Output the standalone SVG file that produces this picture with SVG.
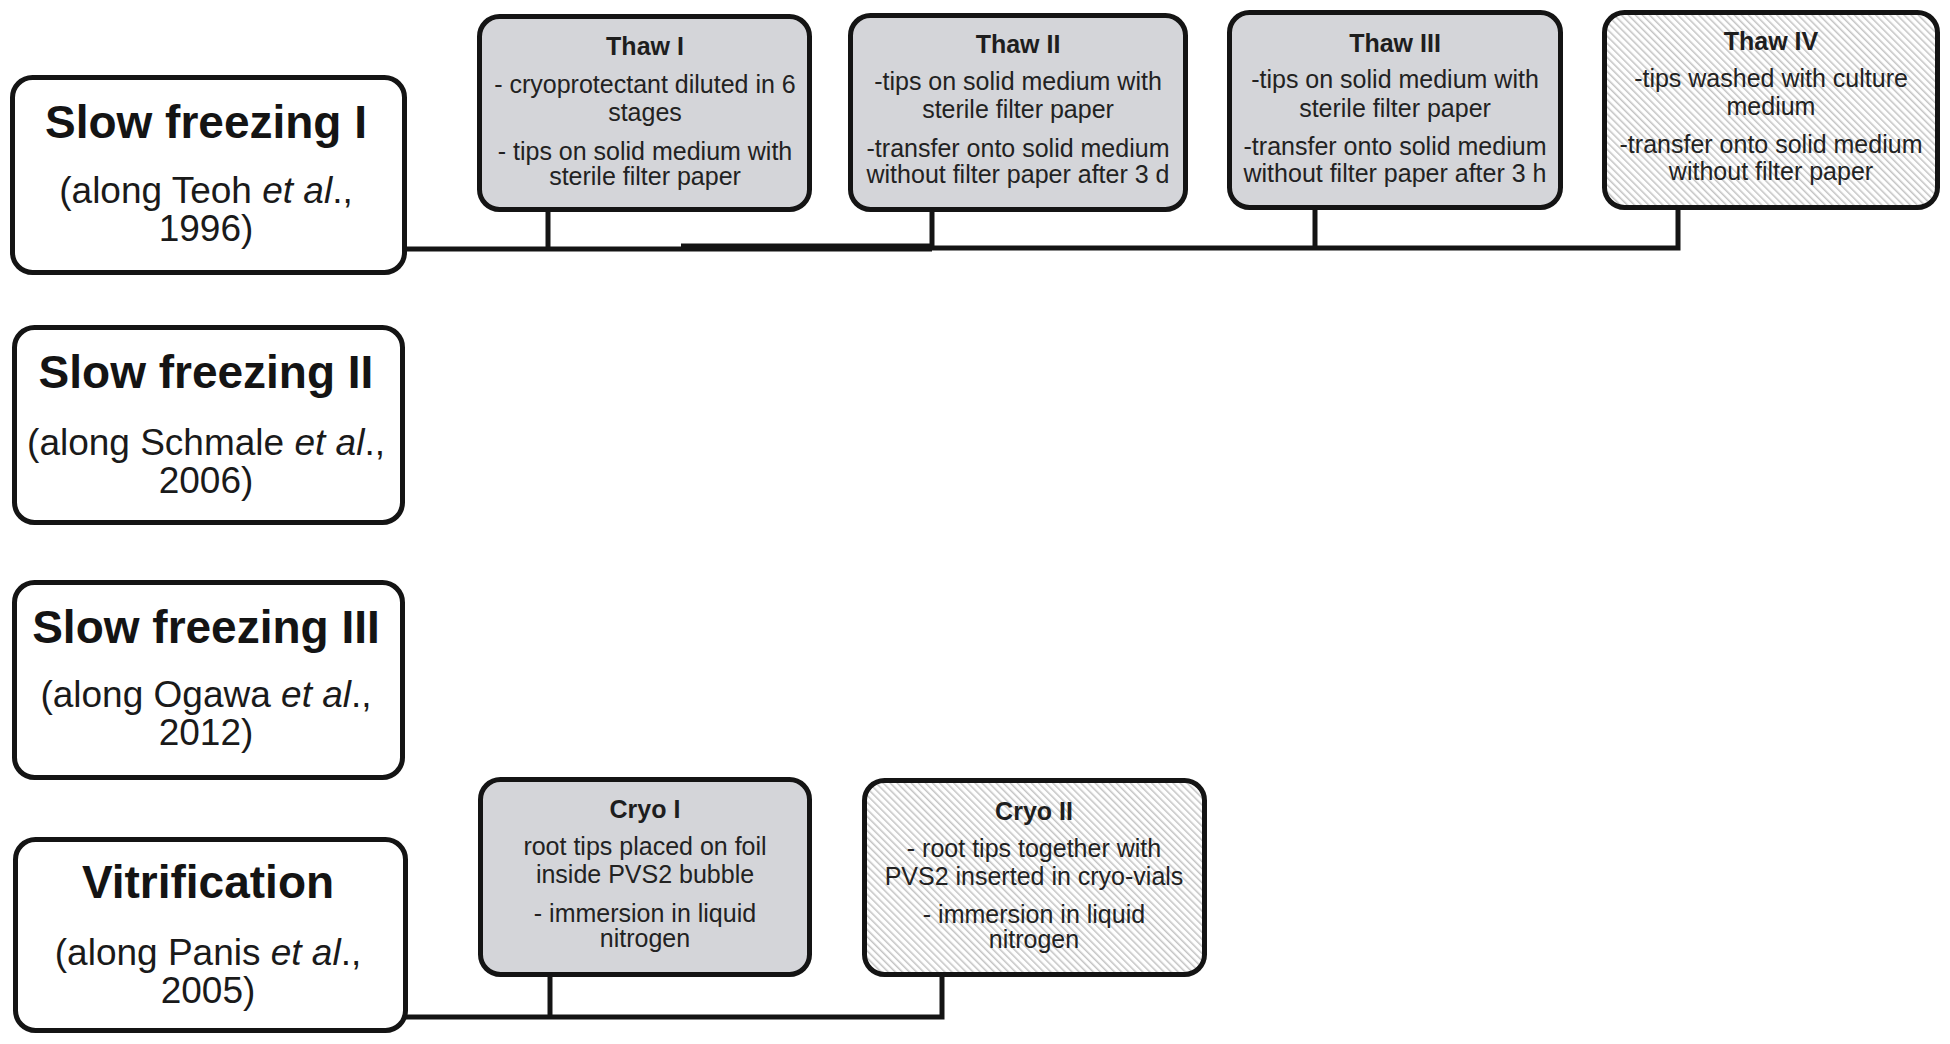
<svg xmlns="http://www.w3.org/2000/svg" width="1950" height="1044" viewBox="0 0 1950 1044">
<style>
  .box { stroke: #141414; stroke-width: 5; }
  .white { fill: #ffffff; }
  .gray { fill: #d4d5d9; }
  .hatch { fill: url(#hatch); }
  .title { font-family: "Liberation Sans", Arial, sans-serif; font-weight: bold; font-size: 46px; fill: #141414; text-anchor: middle; }
  .sub { font-family: "Liberation Sans", Arial, sans-serif; font-size: 37px; fill: #1a1a1a; text-anchor: middle; }
  .head { font-family: "Liberation Sans", Arial, sans-serif; font-weight: bold; font-size: 25px; fill: #1e1e1e; text-anchor: middle; }
  .body { font-family: "Liberation Sans", Arial, sans-serif; font-size: 25px; fill: #222222; text-anchor: middle; }
  .conn { fill: none; stroke: #141414; stroke-width: 5; stroke-linejoin: miter; }
  .it { font-style: italic; }
</style>
<defs>
  <pattern id="hatch" width="5" height="5" patternUnits="userSpaceOnUse" patternTransform="rotate(-45)">
    <rect width="5" height="5" fill="#ffffff"/>
    <line x1="0.8" y1="0" x2="0.8" y2="5" stroke="#bababa" stroke-width="1.3"/>
  </pattern>
</defs>
<rect width="1950" height="1044" fill="#ffffff"/>

<g id="connectors">
  <path class="conn" d="M404 249 H932 M932 248 H1678 V210"/>
  <path class="conn" d="M548 212 V249"/>
  <path class="conn" d="M932 212 V249"/>
  <path class="conn" d="M1315 210 V248"/>
  <path class="conn" d="M681 247 H932" style="stroke-width:7"/>
  <path class="conn" d="M406 1017 H942 V977"/>
  <path class="conn" d="M550 977 V1017"/>
</g>

<g id="slow-freezing-1">
  <rect class="box white" x="12.5" y="77.5" width="392" height="195" rx="20"/>
  <text class="title" x="206" y="138">Slow freezing I</text>
  <text class="sub" x="206" y="203">(along Teoh <tspan class="it">et al</tspan>.,<tspan x="206" dy="38">1996)</tspan></text>
</g>

<g id="slow-freezing-2">
  <rect class="box white" x="14.5" y="327.5" width="388" height="195" rx="20"/>
  <text class="title" x="206" y="388">Slow freezing II</text>
  <text class="sub" x="206" y="455">(along Schmale <tspan class="it">et al</tspan>.,<tspan x="206" dy="38">2006)</tspan></text>
</g>

<g id="slow-freezing-3">
  <rect class="box white" x="14.5" y="582.5" width="388" height="195" rx="20"/>
  <text class="title" x="206" y="643">Slow freezing III</text>
  <text class="sub" x="206" y="707">(along Ogawa <tspan class="it">et al</tspan>.,<tspan x="206" dy="38">2012)</tspan></text>
</g>

<g id="vitrification">
  <rect class="box white" x="15.5" y="839.5" width="390" height="191" rx="20"/>
  <text class="title" x="208" y="898">Vitrification</text>
  <text class="sub" x="208" y="965">(along Panis <tspan class="it">et al</tspan>.,<tspan x="208" dy="38">2005)</tspan></text>
</g>

<g id="thaw-1">
  <rect class="box gray" x="479.5" y="16.5" width="330" height="193" rx="20"/>
  <text class="head" x="645" y="55">Thaw I</text>
  <text class="body" x="645" y="93">- cryoprotectant diluted in 6</text>
  <text class="body" x="645" y="121">stages</text>
  <text class="body" x="645" y="160">- tips on solid medium  with</text>
  <text class="body" x="645" y="185">sterile filter paper</text>
</g>

<g id="thaw-2">
  <rect class="box gray" x="850.5" y="15.5" width="335" height="194" rx="20"/>
  <text class="head" x="1018" y="53">Thaw II</text>
  <text class="body" x="1018" y="90">-tips on solid medium  with</text>
  <text class="body" x="1018" y="118">sterile filter paper</text>
  <text class="body" x="1018" y="157">-transfer onto solid medium</text>
  <text class="body" x="1018" y="183">without filter paper after 3 d</text>
</g>

<g id="thaw-3">
  <rect class="box gray" x="1229.5" y="12.5" width="331" height="195" rx="20"/>
  <text class="head" x="1395" y="52">Thaw III</text>
  <text class="body" x="1395" y="88">-tips on solid medium  with</text>
  <text class="body" x="1395" y="117">sterile filter paper</text>
  <text class="body" x="1395" y="155">-transfer onto solid medium</text>
  <text class="body" x="1395" y="182">without filter paper after 3 h</text>
</g>

<g id="thaw-4">
  <rect class="box hatch" x="1604.5" y="12.5" width="333" height="195" rx="20"/>
  <text class="head" x="1771" y="50">Thaw IV</text>
  <text class="body" x="1771" y="87">-tips washed with culture</text>
  <text class="body" x="1771" y="115">medium</text>
  <text class="body" x="1771" y="153">-transfer onto solid medium</text>
  <text class="body" x="1771" y="180">without filter paper</text>
</g>

<g id="cryo-1">
  <rect class="box gray" x="480.5" y="779.5" width="329" height="195" rx="20"/>
  <text class="head" x="645" y="818">Cryo I</text>
  <text class="body" x="645" y="855">root tips placed on  foil</text>
  <text class="body" x="645" y="883">inside PVS2 bubble</text>
  <text class="body" x="645" y="922">- immersion  in liquid</text>
  <text class="body" x="645" y="947">nitrogen</text>
</g>

<g id="cryo-2">
  <rect class="box hatch" x="864.5" y="780.5" width="340" height="194" rx="20"/>
  <text class="head" x="1034" y="820">Cryo II</text>
  <text class="body" x="1034" y="857">- root tips together with</text>
  <text class="body" x="1034" y="885">PVS2 inserted in cryo-vials</text>
  <text class="body" x="1034" y="923">- immersion  in liquid</text>
  <text class="body" x="1034" y="948">nitrogen</text>
</g>
</svg>
